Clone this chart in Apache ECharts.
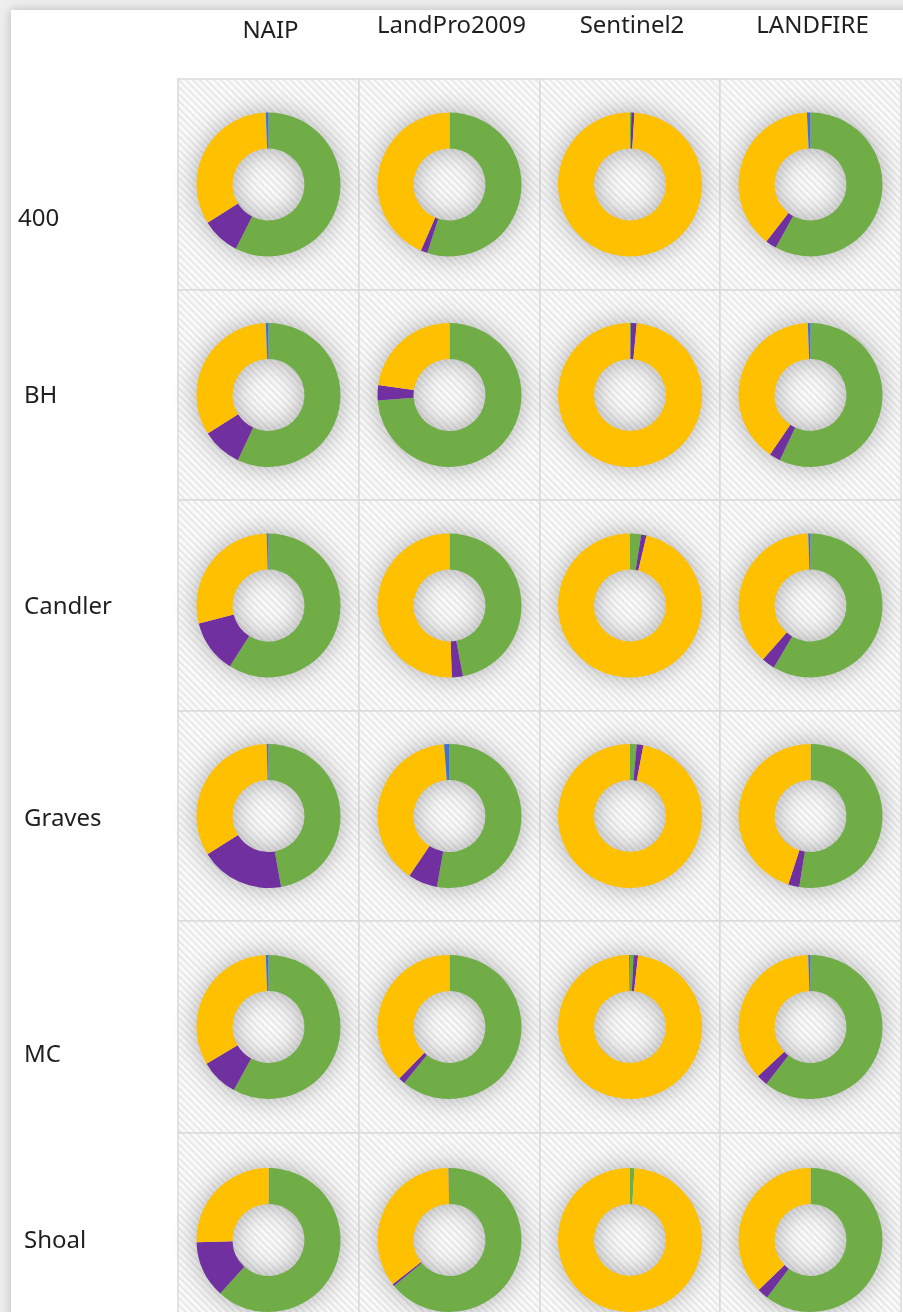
<!DOCTYPE html>
<html><head><meta charset="utf-8">
<script src="https://cdn.jsdelivr.net/npm/echarts@6/dist/echarts.min.js"></script>
<style>html,body{margin:0;padding:0;background:#fff}#c{width:903px;height:1312px}</style>
</head><body><div id="c"></div>
<script>
// ---- data (percent of area) ----
const sites = ['400', 'BH', 'Candler', 'Graves', 'MC', 'Shoal'];
const sources = ['NAIP', 'LandPro2009', 'Sentinel2', 'LANDFIRE'];
const classNames = ['Green class', 'Purple class', 'Yellow class', 'Blue class'];
const classColors = ['#70AD47', '#7030A0', '#FFC000', '#4472C4'];

// rows = sites, columns = sources
const greenShare = [
  [57.5, 55.0, 0.3, 58.0],
  [57.0, 73.8, 0.2, 57.0],
  [59.0, 47.0, 2.5, 58.5],
  [47.2, 52.8, 1.5, 52.5],
  [58.0, 60.8, 0.8, 60.5],
  [61.7, 64.0, 1.0, 60.3]
];
const purpleShare = [
  [8.6, 1.5, 0.7, 2.5],
  [9.0, 3.4, 1.3, 2.5],
  [12.0, 2.5, 1.2, 3.0],
  [18.9, 6.6, 1.5, 2.5],
  [8.5, 1.5, 1.0, 2.5],
  [12.8, 0.5, 0.0, 2.5]
];
const yellowShare = [
  [33.3, 43.5, 99.0, 38.7],
  [33.4, 22.8, 98.5, 39.9],
  [28.6, 50.5, 96.3, 38.0],
  [33.5, 39.4, 97.0, 45.0],
  [32.9, 37.7, 98.0, 36.5],
  [25.5, 35.3, 99.0, 37.2]
];
const blueShare = [
  [0.6, 0.0, 0.0, 0.8],
  [0.6, 0.0, 0.0, 0.6],
  [0.4, 0.0, 0.0, 0.5],
  [0.4, 1.2, 0.0, 0.0],
  [0.6, 0.0, 0.2, 0.5],
  [0.0, 0.2, 0.0, 0.0]
];
const shares = [greenShare, purpleShare, yellowShare, blueShare];

// ---- layout ----
const colEdges = [178, 359, 540, 720, 901];
const rowEdges = [79, 290, 500, 711, 921, 1133, 1347];
const rowLabelY = [218, 395, 606, 818, 1054, 1240];
const headerY = [31, 26, 26, 26];

function stripePattern() {
  const s = 7, cv = document.createElement('canvas');
  cv.width = s; cv.height = s;
  const ctx = cv.getContext('2d');
  const img = ctx.createImageData(s, s);
  for (let y = 0; y < s; y++) for (let x = 0; x < s; x++) {
    const d = ((x - y) % s + s) % s;
    const c = d < 2 ? 232 : (d < 3 ? 240 : 249);
    const i = (y * s + x) * 4;
    img.data[i] = img.data[i + 1] = img.data[i + 2] = c; img.data[i + 3] = 255;
  }
  ctx.putImageData(img, 0, 0);
  return cv;
}
const pattern = { image: stripePattern(), repeat: 'repeat' };

const graphics = [];
// page card
graphics.push({ type: 'rect', z: -10, shape: { x: 11, y: 10, width: 1000, height: 1400 },
  style: { fill: '#ffffff', shadowBlur: 10, shadowColor: 'rgba(0,0,0,0.22)' } });

const series = [];
sites.forEach((site, r) => {
  const y0 = rowEdges[r], y1 = rowEdges[r + 1];
  sources.forEach((src, c) => {
    const x0 = colEdges[c], x1 = colEdges[c + 1];
    graphics.push({ type: 'rect', z: -5, shape: { x: x0, y: y0, width: x1 - x0, height: y1 - y0 },
      style: { fill: pattern, stroke: '#dadada', lineWidth: 1.5 } });
    const cx = (x0 + x1) / 2, cy = r === 5 ? 1240 : (y0 + y1) / 2;
    // soft halo behind the ring
    series.push({ type: 'pie', silent: true, animation: false, z: 1,
      center: [cx, cy], radius: [37, 71], label: { show: false }, labelLine: { show: false },
      itemStyle: { color: '#d8d8d8', shadowBlur: 26, shadowColor: 'rgba(0,0,0,0.32)' },
      data: [{ value: 1, name: 'halo' }] });
    series.push({ type: 'pie', name: site + ' ' + src, silent: true, animation: false, z: 2,
      center: [cx, cy], radius: [36, 72], startAngle: 90, clockwise: true,
      avoidLabelOverlap: false, label: { show: false }, labelLine: { show: false },
      itemStyle: { borderWidth: 0 },
      data: classNames.map((n, k) => ({ name: n, value: shares[k][r][c], itemStyle: { color: classColors[k] } })) });
  });
  graphics.push({ type: 'text', z: 10, left: site === '400' ? 18 : 24, top: rowLabelY[r] - 11,
    style: { text: site, font: '24px "Noto Sans"', fill: '#1f1f1f' } });
});
sources.forEach((src, c) => {
  const cx = (colEdges[c] + colEdges[c + 1]) / 2 + 2;
  graphics.push({ type: 'text', z: 10, x: cx, y: headerY[c],
    style: { text: src, font: '24px "Noto Sans"', fill: '#1f1f1f', align: 'center', verticalAlign: 'middle' } });
});

const chart = echarts.init(document.getElementById('c'), null, { renderer: 'canvas' });
chart.setOption({
  backgroundColor: '#eeeeee',
  animation: false,
  graphic: graphics,
  series: series
});
</script>
</body></html>
